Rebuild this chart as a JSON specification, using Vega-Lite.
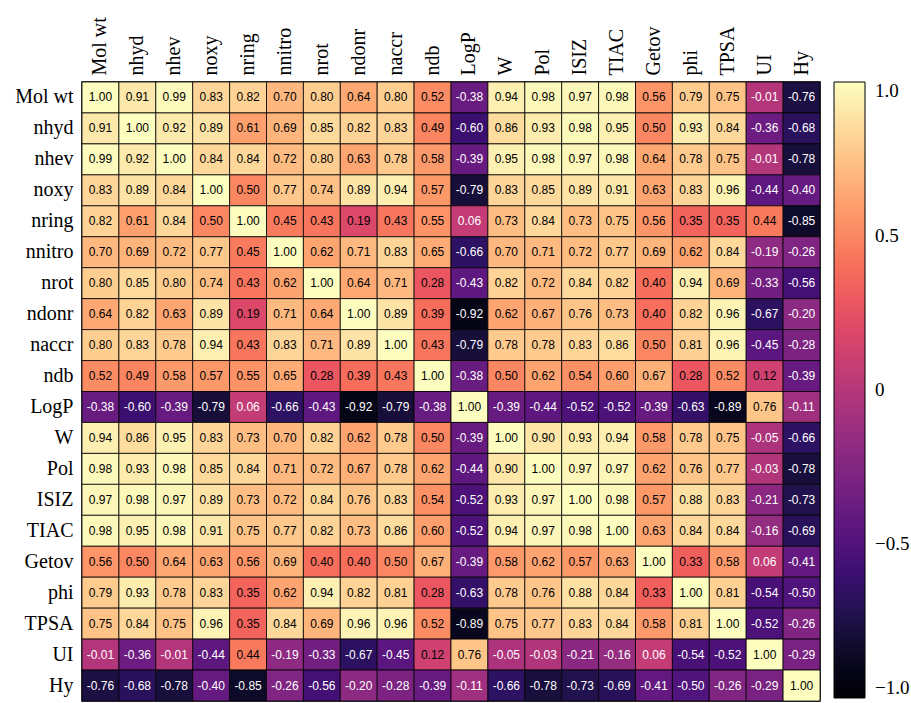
{
  "$schema": "https://vega.github.io/schema/vega-lite/v6.json",
  "width": 738,
  "height": 619,
  "autosize": "none",
  "padding": {"left": 82, "top": 82, "right": 91, "bottom": 2},
  "background": "white",
  "config": {"view": {"stroke": "black", "strokeWidth": 1.5}},
  "data": {"values": [
{"r":"Mol wt","c":"Mol wt","v":1.00},{"r":"Mol wt","c":"nhyd","v":0.91},{"r":"Mol wt","c":"nhev","v":0.99},{"r":"Mol wt","c":"noxy","v":0.83},{"r":"Mol wt","c":"nring","v":0.82},{"r":"Mol wt","c":"nnitro","v":0.70},{"r":"Mol wt","c":"nrot","v":0.80},{"r":"Mol wt","c":"ndonr","v":0.64},{"r":"Mol wt","c":"naccr","v":0.80},{"r":"Mol wt","c":"ndb","v":0.52},{"r":"Mol wt","c":"LogP","v":-0.38},{"r":"Mol wt","c":"W","v":0.94},{"r":"Mol wt","c":"Pol","v":0.98},{"r":"Mol wt","c":"ISIZ","v":0.97},{"r":"Mol wt","c":"TIAC","v":0.98},{"r":"Mol wt","c":"Getov","v":0.56},{"r":"Mol wt","c":"phi","v":0.79},{"r":"Mol wt","c":"TPSA","v":0.75},{"r":"Mol wt","c":"UI","v":-0.01},{"r":"Mol wt","c":"Hy","v":-0.76},
{"r":"nhyd","c":"Mol wt","v":0.91},{"r":"nhyd","c":"nhyd","v":1.00},{"r":"nhyd","c":"nhev","v":0.92},{"r":"nhyd","c":"noxy","v":0.89},{"r":"nhyd","c":"nring","v":0.61},{"r":"nhyd","c":"nnitro","v":0.69},{"r":"nhyd","c":"nrot","v":0.85},{"r":"nhyd","c":"ndonr","v":0.82},{"r":"nhyd","c":"naccr","v":0.83},{"r":"nhyd","c":"ndb","v":0.49},{"r":"nhyd","c":"LogP","v":-0.60},{"r":"nhyd","c":"W","v":0.86},{"r":"nhyd","c":"Pol","v":0.93},{"r":"nhyd","c":"ISIZ","v":0.98},{"r":"nhyd","c":"TIAC","v":0.95},{"r":"nhyd","c":"Getov","v":0.50},{"r":"nhyd","c":"phi","v":0.93},{"r":"nhyd","c":"TPSA","v":0.84},{"r":"nhyd","c":"UI","v":-0.36},{"r":"nhyd","c":"Hy","v":-0.68},
{"r":"nhev","c":"Mol wt","v":0.99},{"r":"nhev","c":"nhyd","v":0.92},{"r":"nhev","c":"nhev","v":1.00},{"r":"nhev","c":"noxy","v":0.84},{"r":"nhev","c":"nring","v":0.84},{"r":"nhev","c":"nnitro","v":0.72},{"r":"nhev","c":"nrot","v":0.80},{"r":"nhev","c":"ndonr","v":0.63},{"r":"nhev","c":"naccr","v":0.78},{"r":"nhev","c":"ndb","v":0.58},{"r":"nhev","c":"LogP","v":-0.39},{"r":"nhev","c":"W","v":0.95},{"r":"nhev","c":"Pol","v":0.98},{"r":"nhev","c":"ISIZ","v":0.97},{"r":"nhev","c":"TIAC","v":0.98},{"r":"nhev","c":"Getov","v":0.64},{"r":"nhev","c":"phi","v":0.78},{"r":"nhev","c":"TPSA","v":0.75},{"r":"nhev","c":"UI","v":-0.01},{"r":"nhev","c":"Hy","v":-0.78},
{"r":"noxy","c":"Mol wt","v":0.83},{"r":"noxy","c":"nhyd","v":0.89},{"r":"noxy","c":"nhev","v":0.84},{"r":"noxy","c":"noxy","v":1.00},{"r":"noxy","c":"nring","v":0.50},{"r":"noxy","c":"nnitro","v":0.77},{"r":"noxy","c":"nrot","v":0.74},{"r":"noxy","c":"ndonr","v":0.89},{"r":"noxy","c":"naccr","v":0.94},{"r":"noxy","c":"ndb","v":0.57},{"r":"noxy","c":"LogP","v":-0.79},{"r":"noxy","c":"W","v":0.83},{"r":"noxy","c":"Pol","v":0.85},{"r":"noxy","c":"ISIZ","v":0.89},{"r":"noxy","c":"TIAC","v":0.91},{"r":"noxy","c":"Getov","v":0.63},{"r":"noxy","c":"phi","v":0.83},{"r":"noxy","c":"TPSA","v":0.96},{"r":"noxy","c":"UI","v":-0.44},{"r":"noxy","c":"Hy","v":-0.40},
{"r":"nring","c":"Mol wt","v":0.82},{"r":"nring","c":"nhyd","v":0.61},{"r":"nring","c":"nhev","v":0.84},{"r":"nring","c":"noxy","v":0.50},{"r":"nring","c":"nring","v":1.00},{"r":"nring","c":"nnitro","v":0.45},{"r":"nring","c":"nrot","v":0.43},{"r":"nring","c":"ndonr","v":0.19},{"r":"nring","c":"naccr","v":0.43},{"r":"nring","c":"ndb","v":0.55},{"r":"nring","c":"LogP","v":0.06},{"r":"nring","c":"W","v":0.73},{"r":"nring","c":"Pol","v":0.84},{"r":"nring","c":"ISIZ","v":0.73},{"r":"nring","c":"TIAC","v":0.75},{"r":"nring","c":"Getov","v":0.56},{"r":"nring","c":"phi","v":0.35},{"r":"nring","c":"TPSA","v":0.35},{"r":"nring","c":"UI","v":0.44},{"r":"nring","c":"Hy","v":-0.85},
{"r":"nnitro","c":"Mol wt","v":0.70},{"r":"nnitro","c":"nhyd","v":0.69},{"r":"nnitro","c":"nhev","v":0.72},{"r":"nnitro","c":"noxy","v":0.77},{"r":"nnitro","c":"nring","v":0.45},{"r":"nnitro","c":"nnitro","v":1.00},{"r":"nnitro","c":"nrot","v":0.62},{"r":"nnitro","c":"ndonr","v":0.71},{"r":"nnitro","c":"naccr","v":0.83},{"r":"nnitro","c":"ndb","v":0.65},{"r":"nnitro","c":"LogP","v":-0.66},{"r":"nnitro","c":"W","v":0.70},{"r":"nnitro","c":"Pol","v":0.71},{"r":"nnitro","c":"ISIZ","v":0.72},{"r":"nnitro","c":"TIAC","v":0.77},{"r":"nnitro","c":"Getov","v":0.69},{"r":"nnitro","c":"phi","v":0.62},{"r":"nnitro","c":"TPSA","v":0.84},{"r":"nnitro","c":"UI","v":-0.19},{"r":"nnitro","c":"Hy","v":-0.26},
{"r":"nrot","c":"Mol wt","v":0.80},{"r":"nrot","c":"nhyd","v":0.85},{"r":"nrot","c":"nhev","v":0.80},{"r":"nrot","c":"noxy","v":0.74},{"r":"nrot","c":"nring","v":0.43},{"r":"nrot","c":"nnitro","v":0.62},{"r":"nrot","c":"nrot","v":1.00},{"r":"nrot","c":"ndonr","v":0.64},{"r":"nrot","c":"naccr","v":0.71},{"r":"nrot","c":"ndb","v":0.28},{"r":"nrot","c":"LogP","v":-0.43},{"r":"nrot","c":"W","v":0.82},{"r":"nrot","c":"Pol","v":0.72},{"r":"nrot","c":"ISIZ","v":0.84},{"r":"nrot","c":"TIAC","v":0.82},{"r":"nrot","c":"Getov","v":0.40},{"r":"nrot","c":"phi","v":0.94},{"r":"nrot","c":"TPSA","v":0.69},{"r":"nrot","c":"UI","v":-0.33},{"r":"nrot","c":"Hy","v":-0.56},
{"r":"ndonr","c":"Mol wt","v":0.64},{"r":"ndonr","c":"nhyd","v":0.82},{"r":"ndonr","c":"nhev","v":0.63},{"r":"ndonr","c":"noxy","v":0.89},{"r":"ndonr","c":"nring","v":0.19},{"r":"ndonr","c":"nnitro","v":0.71},{"r":"ndonr","c":"nrot","v":0.64},{"r":"ndonr","c":"ndonr","v":1.00},{"r":"ndonr","c":"naccr","v":0.89},{"r":"ndonr","c":"ndb","v":0.39},{"r":"ndonr","c":"LogP","v":-0.92},{"r":"ndonr","c":"W","v":0.62},{"r":"ndonr","c":"Pol","v":0.67},{"r":"ndonr","c":"ISIZ","v":0.76},{"r":"ndonr","c":"TIAC","v":0.73},{"r":"ndonr","c":"Getov","v":0.40},{"r":"ndonr","c":"phi","v":0.82},{"r":"ndonr","c":"TPSA","v":0.96},{"r":"ndonr","c":"UI","v":-0.67},{"r":"ndonr","c":"Hy","v":-0.20},
{"r":"naccr","c":"Mol wt","v":0.80},{"r":"naccr","c":"nhyd","v":0.83},{"r":"naccr","c":"nhev","v":0.78},{"r":"naccr","c":"noxy","v":0.94},{"r":"naccr","c":"nring","v":0.43},{"r":"naccr","c":"nnitro","v":0.83},{"r":"naccr","c":"nrot","v":0.71},{"r":"naccr","c":"ndonr","v":0.89},{"r":"naccr","c":"naccr","v":1.00},{"r":"naccr","c":"ndb","v":0.43},{"r":"naccr","c":"LogP","v":-0.79},{"r":"naccr","c":"W","v":0.78},{"r":"naccr","c":"Pol","v":0.78},{"r":"naccr","c":"ISIZ","v":0.83},{"r":"naccr","c":"TIAC","v":0.86},{"r":"naccr","c":"Getov","v":0.50},{"r":"naccr","c":"phi","v":0.81},{"r":"naccr","c":"TPSA","v":0.96},{"r":"naccr","c":"UI","v":-0.45},{"r":"naccr","c":"Hy","v":-0.28},
{"r":"ndb","c":"Mol wt","v":0.52},{"r":"ndb","c":"nhyd","v":0.49},{"r":"ndb","c":"nhev","v":0.58},{"r":"ndb","c":"noxy","v":0.57},{"r":"ndb","c":"nring","v":0.55},{"r":"ndb","c":"nnitro","v":0.65},{"r":"ndb","c":"nrot","v":0.28},{"r":"ndb","c":"ndonr","v":0.39},{"r":"ndb","c":"naccr","v":0.43},{"r":"ndb","c":"ndb","v":1.00},{"r":"ndb","c":"LogP","v":-0.38},{"r":"ndb","c":"W","v":0.50},{"r":"ndb","c":"Pol","v":0.62},{"r":"ndb","c":"ISIZ","v":0.54},{"r":"ndb","c":"TIAC","v":0.60},{"r":"ndb","c":"Getov","v":0.67},{"r":"ndb","c":"phi","v":0.28},{"r":"ndb","c":"TPSA","v":0.52},{"r":"ndb","c":"UI","v":0.12},{"r":"ndb","c":"Hy","v":-0.39},
{"r":"LogP","c":"Mol wt","v":-0.38},{"r":"LogP","c":"nhyd","v":-0.60},{"r":"LogP","c":"nhev","v":-0.39},{"r":"LogP","c":"noxy","v":-0.79},{"r":"LogP","c":"nring","v":0.06},{"r":"LogP","c":"nnitro","v":-0.66},{"r":"LogP","c":"nrot","v":-0.43},{"r":"LogP","c":"ndonr","v":-0.92},{"r":"LogP","c":"naccr","v":-0.79},{"r":"LogP","c":"ndb","v":-0.38},{"r":"LogP","c":"LogP","v":1.00},{"r":"LogP","c":"W","v":-0.39},{"r":"LogP","c":"Pol","v":-0.44},{"r":"LogP","c":"ISIZ","v":-0.52},{"r":"LogP","c":"TIAC","v":-0.52},{"r":"LogP","c":"Getov","v":-0.39},{"r":"LogP","c":"phi","v":-0.63},{"r":"LogP","c":"TPSA","v":-0.89},{"r":"LogP","c":"UI","v":0.76},{"r":"LogP","c":"Hy","v":-0.11},
{"r":"W","c":"Mol wt","v":0.94},{"r":"W","c":"nhyd","v":0.86},{"r":"W","c":"nhev","v":0.95},{"r":"W","c":"noxy","v":0.83},{"r":"W","c":"nring","v":0.73},{"r":"W","c":"nnitro","v":0.70},{"r":"W","c":"nrot","v":0.82},{"r":"W","c":"ndonr","v":0.62},{"r":"W","c":"naccr","v":0.78},{"r":"W","c":"ndb","v":0.50},{"r":"W","c":"LogP","v":-0.39},{"r":"W","c":"W","v":1.00},{"r":"W","c":"Pol","v":0.90},{"r":"W","c":"ISIZ","v":0.93},{"r":"W","c":"TIAC","v":0.94},{"r":"W","c":"Getov","v":0.58},{"r":"W","c":"phi","v":0.78},{"r":"W","c":"TPSA","v":0.75},{"r":"W","c":"UI","v":-0.05},{"r":"W","c":"Hy","v":-0.66},
{"r":"Pol","c":"Mol wt","v":0.98},{"r":"Pol","c":"nhyd","v":0.93},{"r":"Pol","c":"nhev","v":0.98},{"r":"Pol","c":"noxy","v":0.85},{"r":"Pol","c":"nring","v":0.84},{"r":"Pol","c":"nnitro","v":0.71},{"r":"Pol","c":"nrot","v":0.72},{"r":"Pol","c":"ndonr","v":0.67},{"r":"Pol","c":"naccr","v":0.78},{"r":"Pol","c":"ndb","v":0.62},{"r":"Pol","c":"LogP","v":-0.44},{"r":"Pol","c":"W","v":0.90},{"r":"Pol","c":"Pol","v":1.00},{"r":"Pol","c":"ISIZ","v":0.97},{"r":"Pol","c":"TIAC","v":0.97},{"r":"Pol","c":"Getov","v":0.62},{"r":"Pol","c":"phi","v":0.76},{"r":"Pol","c":"TPSA","v":0.77},{"r":"Pol","c":"UI","v":-0.03},{"r":"Pol","c":"Hy","v":-0.78},
{"r":"ISIZ","c":"Mol wt","v":0.97},{"r":"ISIZ","c":"nhyd","v":0.98},{"r":"ISIZ","c":"nhev","v":0.97},{"r":"ISIZ","c":"noxy","v":0.89},{"r":"ISIZ","c":"nring","v":0.73},{"r":"ISIZ","c":"nnitro","v":0.72},{"r":"ISIZ","c":"nrot","v":0.84},{"r":"ISIZ","c":"ndonr","v":0.76},{"r":"ISIZ","c":"naccr","v":0.83},{"r":"ISIZ","c":"ndb","v":0.54},{"r":"ISIZ","c":"LogP","v":-0.52},{"r":"ISIZ","c":"W","v":0.93},{"r":"ISIZ","c":"Pol","v":0.97},{"r":"ISIZ","c":"ISIZ","v":1.00},{"r":"ISIZ","c":"TIAC","v":0.98},{"r":"ISIZ","c":"Getov","v":0.57},{"r":"ISIZ","c":"phi","v":0.88},{"r":"ISIZ","c":"TPSA","v":0.83},{"r":"ISIZ","c":"UI","v":-0.21},{"r":"ISIZ","c":"Hy","v":-0.73},
{"r":"TIAC","c":"Mol wt","v":0.98},{"r":"TIAC","c":"nhyd","v":0.95},{"r":"TIAC","c":"nhev","v":0.98},{"r":"TIAC","c":"noxy","v":0.91},{"r":"TIAC","c":"nring","v":0.75},{"r":"TIAC","c":"nnitro","v":0.77},{"r":"TIAC","c":"nrot","v":0.82},{"r":"TIAC","c":"ndonr","v":0.73},{"r":"TIAC","c":"naccr","v":0.86},{"r":"TIAC","c":"ndb","v":0.60},{"r":"TIAC","c":"LogP","v":-0.52},{"r":"TIAC","c":"W","v":0.94},{"r":"TIAC","c":"Pol","v":0.97},{"r":"TIAC","c":"ISIZ","v":0.98},{"r":"TIAC","c":"TIAC","v":1.00},{"r":"TIAC","c":"Getov","v":0.63},{"r":"TIAC","c":"phi","v":0.84},{"r":"TIAC","c":"TPSA","v":0.84},{"r":"TIAC","c":"UI","v":-0.16},{"r":"TIAC","c":"Hy","v":-0.69},
{"r":"Getov","c":"Mol wt","v":0.56},{"r":"Getov","c":"nhyd","v":0.50},{"r":"Getov","c":"nhev","v":0.64},{"r":"Getov","c":"noxy","v":0.63},{"r":"Getov","c":"nring","v":0.56},{"r":"Getov","c":"nnitro","v":0.69},{"r":"Getov","c":"nrot","v":0.40},{"r":"Getov","c":"ndonr","v":0.40},{"r":"Getov","c":"naccr","v":0.50},{"r":"Getov","c":"ndb","v":0.67},{"r":"Getov","c":"LogP","v":-0.39},{"r":"Getov","c":"W","v":0.58},{"r":"Getov","c":"Pol","v":0.62},{"r":"Getov","c":"ISIZ","v":0.57},{"r":"Getov","c":"TIAC","v":0.63},{"r":"Getov","c":"Getov","v":1.00},{"r":"Getov","c":"phi","v":0.33},{"r":"Getov","c":"TPSA","v":0.58},{"r":"Getov","c":"UI","v":0.06},{"r":"Getov","c":"Hy","v":-0.41},
{"r":"phi","c":"Mol wt","v":0.79},{"r":"phi","c":"nhyd","v":0.93},{"r":"phi","c":"nhev","v":0.78},{"r":"phi","c":"noxy","v":0.83},{"r":"phi","c":"nring","v":0.35},{"r":"phi","c":"nnitro","v":0.62},{"r":"phi","c":"nrot","v":0.94},{"r":"phi","c":"ndonr","v":0.82},{"r":"phi","c":"naccr","v":0.81},{"r":"phi","c":"ndb","v":0.28},{"r":"phi","c":"LogP","v":-0.63},{"r":"phi","c":"W","v":0.78},{"r":"phi","c":"Pol","v":0.76},{"r":"phi","c":"ISIZ","v":0.88},{"r":"phi","c":"TIAC","v":0.84},{"r":"phi","c":"Getov","v":0.33},{"r":"phi","c":"phi","v":1.00},{"r":"phi","c":"TPSA","v":0.81},{"r":"phi","c":"UI","v":-0.54},{"r":"phi","c":"Hy","v":-0.50},
{"r":"TPSA","c":"Mol wt","v":0.75},{"r":"TPSA","c":"nhyd","v":0.84},{"r":"TPSA","c":"nhev","v":0.75},{"r":"TPSA","c":"noxy","v":0.96},{"r":"TPSA","c":"nring","v":0.35},{"r":"TPSA","c":"nnitro","v":0.84},{"r":"TPSA","c":"nrot","v":0.69},{"r":"TPSA","c":"ndonr","v":0.96},{"r":"TPSA","c":"naccr","v":0.96},{"r":"TPSA","c":"ndb","v":0.52},{"r":"TPSA","c":"LogP","v":-0.89},{"r":"TPSA","c":"W","v":0.75},{"r":"TPSA","c":"Pol","v":0.77},{"r":"TPSA","c":"ISIZ","v":0.83},{"r":"TPSA","c":"TIAC","v":0.84},{"r":"TPSA","c":"Getov","v":0.58},{"r":"TPSA","c":"phi","v":0.81},{"r":"TPSA","c":"TPSA","v":1.00},{"r":"TPSA","c":"UI","v":-0.52},{"r":"TPSA","c":"Hy","v":-0.26},
{"r":"UI","c":"Mol wt","v":-0.01},{"r":"UI","c":"nhyd","v":-0.36},{"r":"UI","c":"nhev","v":-0.01},{"r":"UI","c":"noxy","v":-0.44},{"r":"UI","c":"nring","v":0.44},{"r":"UI","c":"nnitro","v":-0.19},{"r":"UI","c":"nrot","v":-0.33},{"r":"UI","c":"ndonr","v":-0.67},{"r":"UI","c":"naccr","v":-0.45},{"r":"UI","c":"ndb","v":0.12},{"r":"UI","c":"LogP","v":0.76},{"r":"UI","c":"W","v":-0.05},{"r":"UI","c":"Pol","v":-0.03},{"r":"UI","c":"ISIZ","v":-0.21},{"r":"UI","c":"TIAC","v":-0.16},{"r":"UI","c":"Getov","v":0.06},{"r":"UI","c":"phi","v":-0.54},{"r":"UI","c":"TPSA","v":-0.52},{"r":"UI","c":"UI","v":1.00},{"r":"UI","c":"Hy","v":-0.29},
{"r":"Hy","c":"Mol wt","v":-0.76},{"r":"Hy","c":"nhyd","v":-0.68},{"r":"Hy","c":"nhev","v":-0.78},{"r":"Hy","c":"noxy","v":-0.40},{"r":"Hy","c":"nring","v":-0.85},{"r":"Hy","c":"nnitro","v":-0.26},{"r":"Hy","c":"nrot","v":-0.56},{"r":"Hy","c":"ndonr","v":-0.20},{"r":"Hy","c":"naccr","v":-0.28},{"r":"Hy","c":"ndb","v":-0.39},{"r":"Hy","c":"LogP","v":-0.11},{"r":"Hy","c":"W","v":-0.66},{"r":"Hy","c":"Pol","v":-0.78},{"r":"Hy","c":"ISIZ","v":-0.73},{"r":"Hy","c":"TIAC","v":-0.69},{"r":"Hy","c":"Getov","v":-0.41},{"r":"Hy","c":"phi","v":-0.50},{"r":"Hy","c":"TPSA","v":-0.26},{"r":"Hy","c":"UI","v":-0.29},{"r":"Hy","c":"Hy","v":1.00}
  ]},
  "transform": [{"calculate": "replace(format(datum.v, '.2f'), '\u2212', '-')", "as": "lbl"}],
  "encoding": {
    "x": {"field": "c", "type": "nominal", "sort": ["Mol wt","nhyd","nhev","noxy","nring","nnitro","nrot","ndonr","naccr","ndb","LogP","W","Pol","ISIZ","TIAC","Getov","phi","TPSA","UI","Hy"],
      "scale": {"paddingInner": 0, "paddingOuter": 0},
      "axis": {"orient": "top", "title": null, "labelAngle": -90, "labelAlign": "left", "labelBaseline": "middle", "ticks": false, "domain": false, "labelPadding": 7, "labelFont": "Liberation Serif", "labelFontSize": 20, "labelColor": "black"}},
    "y": {"field": "r", "type": "nominal", "sort": ["Mol wt","nhyd","nhev","noxy","nring","nnitro","nrot","ndonr","naccr","ndb","LogP","W","Pol","ISIZ","TIAC","Getov","phi","TPSA","UI","Hy"],
      "scale": {"paddingInner": 0, "paddingOuter": 0},
      "axis": {"title": null, "ticks": false, "domain": false, "labelPadding": 9, "labelFont": "Liberation Serif", "labelFontSize": 20, "labelColor": "black"}}
  },
  "layer": [
    {"mark": {"type": "rect", "stroke": "black", "strokeWidth": 0.8},
     "encoding": {"color": {"field": "v", "type": "quantitative",
        "scale": {"scheme": "magma", "domain": [-1, 1]},
        "legend": {"title": null, "orient": "none", "legendX": 752, "legendY": 0, "direction": "vertical",
          "gradientLength": 616, "gradientThickness": 31, "gradientStrokeColor": "black", "gradientStrokeWidth": 1,
          "values": [-1, -0.5, 0, 0.5, 1], "labelExpr": "datum.value == 0 ? '0' : format(datum.value, '.1f')",
          "labelFont": "Liberation Serif", "labelFontSize": 19, "labelColor": "black", "labelOffset": 10}}}},
    {"mark": {"type": "text", "font": "Liberation Sans", "fontSize": 12},
     "encoding": {"text": {"field": "lbl", "type": "nominal"},
       "color": {"condition": {"test": "datum.v < 0.1", "value": "white"}, "value": "black"}}}
  ]
}
